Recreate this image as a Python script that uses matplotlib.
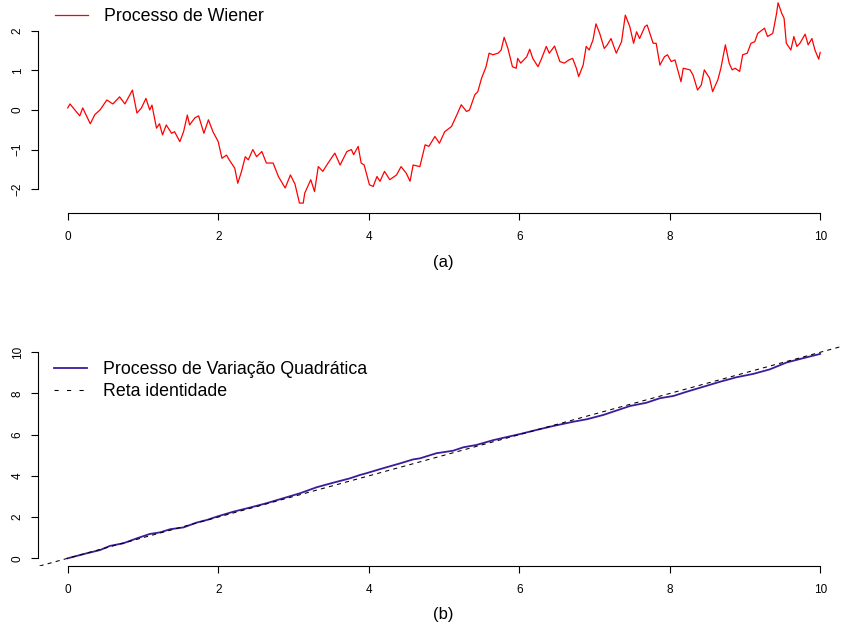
import matplotlib
matplotlib.use("Agg")
import matplotlib.pyplot as plt
from matplotlib.lines import Line2D

plt.rcParams['font.family'] = ['Liberation Sans', 'DejaVu Sans']

# ---- data ----
wiener_points = [
    (0.00, 0.05), (0.03, 0.15), (0.16, -0.15), (0.20, 0.05), (0.30, -0.35), (0.36, -0.12),
    (0.43, 0.00), (0.52, 0.25), (0.60, 0.15), (0.69, 0.33), (0.76, 0.15), (0.86, 0.50),
    (0.92, -0.08), (0.98, 0.05), (1.04, 0.29), (1.09, 0.00), (1.12, 0.12), (1.18, -0.46),
    (1.22, -0.35), (1.26, -0.63), (1.31, -0.38), (1.38, -0.59), (1.42, -0.55), (1.49, -0.80),
    (1.54, -0.55), (1.59, -0.13), (1.62, -0.38), (1.69, -0.20), (1.74, -0.15), (1.81, -0.59),
    (1.87, -0.25), (1.93, -0.55), (2.00, -0.80), (2.05, -1.22), (2.11, -1.14), (2.15, -1.27),
    (2.22, -1.47), (2.26, -1.85), (2.31, -1.55), (2.36, -1.18), (2.40, -1.26), (2.46, -1.00),
    (2.51, -1.18), (2.58, -1.05), (2.64, -1.34), (2.73, -1.34), (2.80, -1.68), (2.89, -1.97),
    (2.96, -1.64), (3.02, -1.87), (3.08, -2.35), (3.13, -2.35), (3.15, -2.10), (3.23, -1.76),
    (3.28, -2.06), (3.33, -1.43), (3.39, -1.55), (3.46, -1.34), (3.55, -1.09), (3.62, -1.39),
    (3.71, -1.05), (3.77, -1.00), (3.80, -1.13), (3.86, -0.92), (3.90, -1.34), (3.94, -1.39),
    (4.01, -1.89), (4.06, -1.93), (4.11, -1.68), (4.15, -1.80), (4.21, -1.55), (4.28, -1.76),
    (4.37, -1.64), (4.43, -1.43), (4.50, -1.60), (4.55, -1.80), (4.59, -1.39), (4.68, -1.43),
    (4.75, -0.88), (4.80, -0.92), (4.88, -0.67), (4.94, -0.84), (5.01, -0.55), (5.10, -0.42),
    (5.17, -0.13), (5.23, 0.13), (5.30, -0.04), (5.34, 0.00), (5.41, 0.38), (5.45, 0.46),
    (5.50, 0.80), (5.56, 1.09), (5.60, 1.43), (5.65, 1.39), (5.72, 1.43), (5.76, 1.51),
    (5.80, 1.83), (5.85, 1.55), (5.91, 1.09), (5.96, 1.05), (5.98, 1.30), (6.02, 1.18),
    (6.10, 1.34), (6.14, 1.53), (6.18, 1.30), (6.25, 1.09), (6.29, 1.26), (6.36, 1.60),
    (6.40, 1.43), (6.47, 1.61), (6.54, 1.22), (6.60, 1.18), (6.66, 1.26), (6.71, 1.30),
    (6.76, 1.05), (6.79, 0.84), (6.85, 1.13), (6.89, 1.60), (6.93, 1.51), (6.98, 1.76),
    (7.02, 2.17), (7.07, 1.93), (7.13, 1.55), (7.17, 1.64), (7.22, 1.80), (7.29, 1.43),
    (7.36, 1.72), (7.41, 2.39), (7.47, 2.10), (7.52, 1.68), (7.56, 1.97), (7.60, 1.80),
    (7.67, 2.10), (7.70, 2.14), (7.78, 1.68), (7.82, 1.68), (7.87, 1.13), (7.93, 1.34),
    (7.97, 1.39), (8.02, 1.22), (8.07, 1.26), (8.15, 0.71), (8.18, 1.05), (8.27, 1.01),
    (8.31, 0.88), (8.37, 0.50), (8.42, 0.63), (8.46, 1.01), (8.53, 0.80), (8.57, 0.46),
    (8.64, 0.76), (8.68, 1.05), (8.74, 1.64), (8.79, 1.18), (8.83, 1.01), (8.87, 1.05),
    (8.93, 0.97), (8.97, 1.39), (9.03, 1.43), (9.08, 1.68), (9.13, 1.72), (9.17, 1.93),
    (9.26, 2.06), (9.30, 1.85), (9.37, 1.93), (9.42, 2.43), (9.44, 2.70), (9.49, 2.43),
    (9.52, 2.31), (9.55, 1.68), (9.61, 1.51), (9.65, 1.85), (9.69, 1.60), (9.73, 1.68),
    (9.80, 1.91), (9.84, 1.64), (9.89, 1.80), (9.93, 1.51), (9.98, 1.28), (10.00, 1.45),
]

qv_points = [
    (0.00, 0.00), (0.25, 0.24), (0.43, 0.40), (0.56, 0.60), (0.74, 0.73), (0.80, 0.81),
    (0.92, 0.97), (1.09, 1.18), (1.23, 1.26), (1.36, 1.41), (1.54, 1.50), (1.71, 1.73),
    (1.85, 1.86), (1.98, 2.02), (2.20, 2.26), (2.42, 2.46), (2.64, 2.67), (2.86, 2.91),
    (3.09, 3.16), (3.31, 3.45), (3.53, 3.67), (3.75, 3.88), (3.88, 4.04), (3.97, 4.13),
    (4.19, 4.37), (4.42, 4.61), (4.59, 4.80), (4.68, 4.85), (4.90, 5.10), (5.12, 5.22),
    (5.26, 5.39), (5.43, 5.50), (5.66, 5.74), (6.01, 6.03), (6.23, 6.23), (6.45, 6.42),
    (6.72, 6.63), (6.90, 6.75), (7.12, 6.96), (7.34, 7.23), (7.47, 7.39), (7.69, 7.55),
    (7.87, 7.77), (8.05, 7.88), (8.23, 8.09), (8.45, 8.33), (8.67, 8.57), (8.89, 8.79),
    (9.11, 8.95), (9.33, 9.17), (9.55, 9.50), (9.77, 9.71), (10.00, 9.92),
]

x_ticks = [0, 2, 4, 6, 8, 10]
y_ticks_a = [-2, -1, 0, 1, 2]
y_ticks_b = [0, 2, 4, 6, 8, 10]
label_a = "(a)"
label_b = "(b)"
legend_a = "Processo de Wiener"
legend_b1 = "Processo de Variação Quadrática"
legend_b2 = "Reta identidade"

t_w, w_vals = zip(*wiener_points)
t_q, q_vals = zip(*qv_points)

W, H = 842, 630
fig = plt.figure(figsize=(W / 100, H / 100), dpi=100)


def px_axes(left, right, bottom, top):
    return fig.add_axes([left / W, (H - bottom) / H, (right - left) / W, (bottom - top) / H])


def fmt(v):
    return str(v).replace('-', '\u2212')


def style(ax, yticks):
    for s in ('top', 'right'):
        ax.spines[s].set_visible(False)
    ax.spines['left'].set_bounds(yticks[0], yticks[-1])
    ax.spines['bottom'].set_bounds(x_ticks[0], x_ticks[-1])
    for s in ('left', 'bottom'):
        ax.spines[s].set_linewidth(0.8)
    ax.set_xticks(x_ticks)
    ax.set_yticks(yticks)
    ax.set_xticklabels([fmt(v) for v in x_ticks])
    ax.set_yticklabels([fmt(v) for v in yticks], rotation=90, va='center')
    ax.tick_params(axis='both', direction='out', length=5, width=0.8, labelsize=8.5)
    ax.tick_params(axis='x', pad=8)
    ax.tick_params(axis='y', pad=5)
    ax.set_facecolor('none')


LEG_FS = 12.8

# ---- panel (a) ----
ax1 = px_axes(37.6, 850.3, 213, -5.1)
ax1.set_xlim(-0.4, 10.4)
ax1.set_ylim(-2.6, 2.9)
ax1.plot(t_w, w_vals, color='red', lw=0.9, label=legend_a)
style(ax1, y_ticks_a)
ax1.legend(loc='upper left', bbox_to_anchor=(55 / W, 1 - 8 / H), bbox_transform=fig.transFigure,
           frameon=False, fontsize=LEG_FS, handlelength=1.85, handletextpad=0.9,
           borderpad=0, borderaxespad=0)
fig.text(443 / W, 1 - 262 / H, label_a, ha='center', va='center', fontsize=12)

# ---- panel (b) ----
ax2 = px_axes(37.6, 850.3, 566, 346.3)
ax2.set_xlim(-0.4, 10.4)
ax2.set_ylim(-0.374, 10.29)
ax2.plot(t_q, q_vals, color='#3d1a9e', lw=1.3, label=legend_b1, zorder=2)
ax2.axline((0, 0), slope=1, color='black', lw=0.75, linestyle=(0, (4, 4)), zorder=3)
style(ax2, y_ticks_b)
handles = [Line2D([], [], color='#3d1a9e', lw=1.3),
           Line2D([], [], color='black', lw=0.75, linestyle=(0, (4, 8)))]
ax2.legend(handles, [legend_b1, legend_b2], loc='upper left',
           bbox_to_anchor=(54 / W, 1 - 361 / H), bbox_transform=fig.transFigure,
           frameon=False, fontsize=LEG_FS, handlelength=1.85, handletextpad=0.9,
           labelspacing=0.28, borderpad=0, borderaxespad=0)
fig.text(443 / W, 1 - 615 / H, label_b, ha='center', va='center', fontsize=12)

fig.savefig('out.png', dpi=100)
